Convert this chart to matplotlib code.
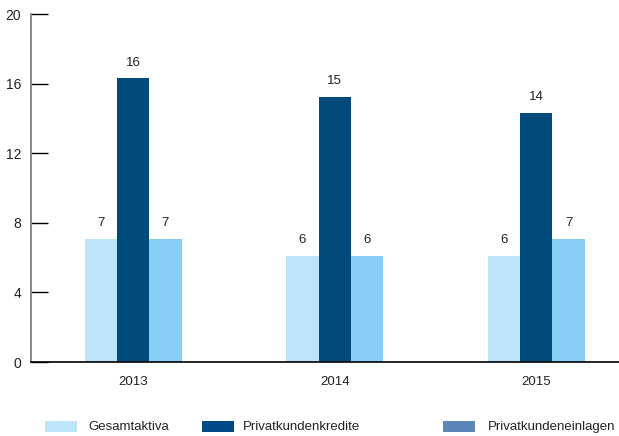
import numpy as np
import matplotlib.pyplot as plt
from matplotlib.patches import Rectangle

plt.rcParams['font.family'] = ['Liberation Sans', 'DejaVu Sans']

years = ['2013', '2014', '2015']
series = ['Gesamtaktiva', 'Privatkundenkredite', 'Privatkundeneinlagen']
gesamtaktiva = [7.07, 6.1, 6.1]
kredite = [16.3, 15.23, 14.33]
einlagen = [7.07, 6.1, 7.07]
labels_ga = ['7', '6', '6']
labels_kr = ['16', '15', '14']
labels_ei = ['7', '6', '7']

bar_colors = ['#bee4f9', '#004a7c', '#87cef4']
legend_colors = ['#bee4f9', '#004b87', '#5b86b8']


def main():
    fig = plt.figure(figsize=(6.19, 4.36), dpi=100)
    ax = fig.add_axes([31 / 619, 74 / 436, 588 / 619, 348 / 436])

    x = np.arange(len(years))
    width = 0.16
    data = [gesamtaktiva, kredite, einlagen]
    labels = [labels_ga, labels_kr, labels_ei]
    for i, (vals, lab, col) in enumerate(zip(data, labels, bar_colors)):
        pos = x + (i - 1) * width
        ax.bar(pos, vals, width, color=col, linewidth=0)
        for p, v, t in zip(pos, vals, lab):
            ax.text(p, v + 0.55, t, ha='center', va='bottom', fontsize=9.5,
                    color='#222222')

    ax.set_xlim(-0.507, 2.41)
    ax.set_ylim(0, 20)
    ax.set_yticks([0, 4, 8, 12, 16, 20])
    ax.set_xticks(x)
    ax.set_xticklabels(years)
    ax.tick_params(axis='x', length=0, pad=10, labelsize=9.5)
    ax.tick_params(axis='y', direction='in', length=12, width=1,
                   color='black', pad=7, labelsize=10)
    for lbl in ax.get_yticklabels() + ax.get_xticklabels():
        lbl.set_color('#222222')
    yt = ax.yaxis.get_major_ticks()
    yt[-1].tick1line.set_color('#777777')

    ax.spines['top'].set_visible(False)
    ax.spines['right'].set_visible(False)
    ax.spines['left'].set_color('#777777')
    ax.spines['left'].set_linewidth(1.2)
    ax.spines['bottom'].set_color('black')
    ax.spines['bottom'].set_linewidth(1.2)

    # legend drawn by hand to match spacing
    patch_x = [45, 202, 443]
    text_x = [88, 243, 488]
    for px, tx, col, name in zip(patch_x, text_x, legend_colors, series):
        fig.add_artist(Rectangle((px / 619, (436 - 432) / 436), 32 / 619,
                                 11 / 436, transform=fig.transFigure,
                                 color=col, linewidth=0))
        fig.text(tx / 619, (436 - 426.5) / 436, name, ha='left',
                 va='center', fontsize=9.5, color='#222222')

    fig.savefig('out.png', dpi=100)
    plt.close(fig)


if __name__ == "__main__":
    main()
